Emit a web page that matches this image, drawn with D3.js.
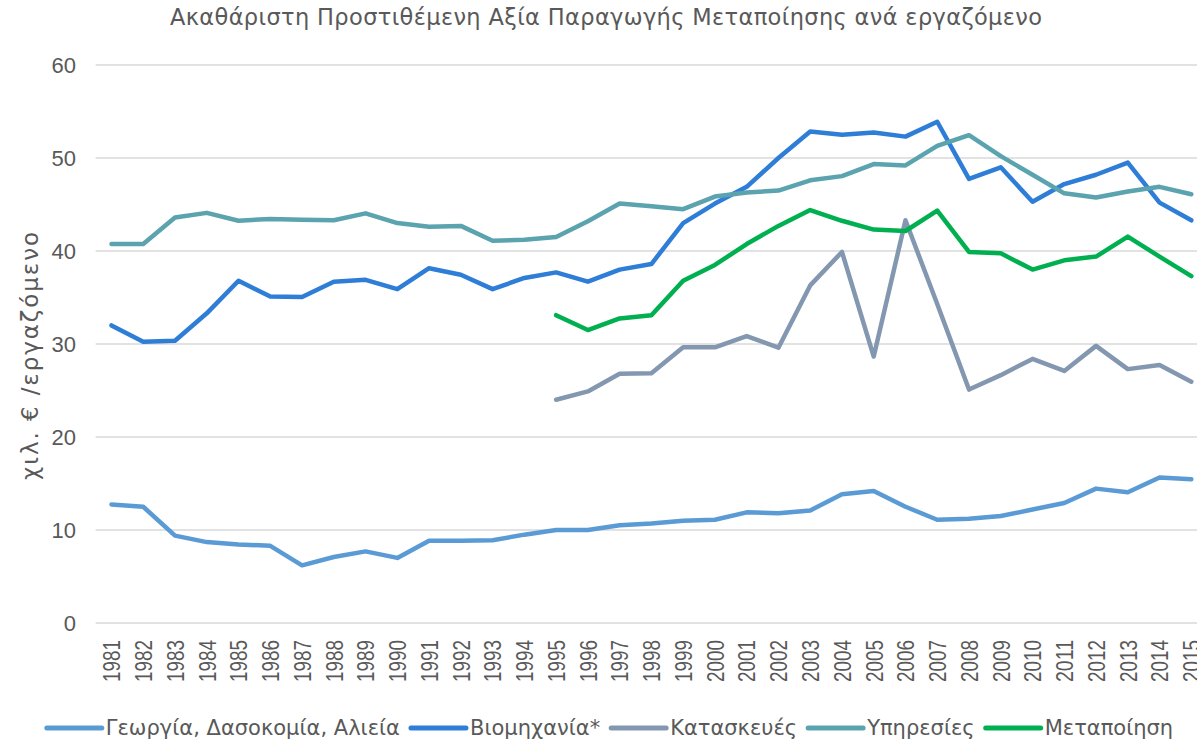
<!DOCTYPE html>
<html>
<head>
<meta charset="utf-8">
<script src="https://cdn.jsdelivr.net/npm/d3@7"></script>
<style>
  body { margin: 0; background: #fff; }
  text { font-family: "DejaVu Sans", sans-serif; fill: #595959; }
  .num { font-family: "Liberation Sans", Arial, sans-serif; }
</style>
</head>
<body>
<div id="chart"></div>
<script>
// Years on the x axis
const years = d3.range(1981, 2016);

// Series values, thousand euro per employee (null = no data)
const agriculture = [12.75, 12.5, 9.4, 8.7, 8.45, 8.3, 6.2, 7.1, 7.7, 7.0,
  8.85, 8.85, 8.9, 9.5, 10.0, 10.0, 10.5, 10.7, 11.0, 11.1,
  11.9, 11.8, 12.1, 13.85, 14.2, 12.5, 11.1, 11.2, 11.5, 12.2,
  12.9, 14.45, 14.05, 15.65, 15.45];
const industry = [32.0, 30.25, 30.35, 33.3, 36.8, 35.1, 35.05, 36.7, 36.9, 35.9,
  38.15, 37.45, 35.9, 37.1, 37.7, 36.7, 38.0, 38.6, 43.0, 45.1,
  46.9, 50.0, 52.85, 52.5, 52.75, 52.3, 53.9, 47.75, 49.0, 45.3,
  47.2, 48.2, 49.5, 45.2, 43.3];
const construction = [null, null, null, null, null, null, null, null, null, null,
  null, null, null, null, 24.0, 24.9, 26.8, 26.85, 29.65, 29.65,
  30.85, 29.6, 36.3, 39.9, 28.65, 43.3, 34.3, 25.1, 26.65, 28.4,
  27.1, 29.8, 27.3, 27.75, 25.95];
const services = [40.75, 40.75, 43.6, 44.1, 43.25, 43.45, 43.35, 43.3, 44.05, 43.0,
  42.6, 42.7, 41.1, 41.2, 41.5, 43.2, 45.1, 44.8, 44.5, 45.85,
  46.3, 46.5, 47.6, 48.05, 49.35, 49.2, 51.3, 52.45, 50.2, 48.2,
  46.2, 45.75, 46.4, 46.9, 46.1];
const manufacturing = [null, null, null, null, null, null, null, null, null, null,
  null, null, null, null, 33.1, 31.5, 32.75, 33.1, 36.8, 38.5,
  40.75, 42.7, 44.4, 43.25, 42.3, 42.15, 44.35, 39.9, 39.75, 38.0,
  39.0, 39.4, 41.55, 39.4, 37.3];

const seriesNames = ["Γεωργία, Δασοκομία, Αλιεία", "Βιομηχανία*", "Κατασκευές", "Υπηρεσίες", "Μεταποίηση"];
const seriesValues = [agriculture, industry, construction, services, manufacturing];
const seriesColors = ["#5B9BD5", "#2E7DD7", "#8497B0", "#5BA3AE", "#00B050"];
const yTicks = [0, 10, 20, 30, 40, 50, 60];

const width = 1197, height = 741;

const svg = d3.select("#chart")
  .append("svg")
  .attr("width", width)
  .attr("height", height);

// Scales: one band per year, plot runs past the right edge like the original
const x = d3.scalePoint()
  .domain(years)
  .range([95.6, 1207.2])
  .padding(0.5);

const y = d3.scaleLinear()
  .domain([0, 60])
  .range([623, 65]);

// Gridlines
svg.append("g")
  .selectAll("line")
  .data(yTicks)
  .join("line")
  .attr("x1", 95.6)
  .attr("x2", 1207.2)
  .attr("y1", d => y(d))
  .attr("y2", d => y(d))
  .attr("stroke", "#D9D9D9")
  .attr("stroke-width", 1.5);

// Y axis labels
const yAxis = svg.append("g")
  .attr("transform", "translate(76,0)")
  .call(d3.axisLeft(y).tickValues(yTicks).tickSize(0).tickPadding(0));
yAxis.select(".domain").remove();
yAxis.selectAll("text")
  .attr("class", "num")
  .style("font-size", "22px")
  .attr("fill", "#595959");

// X axis labels, rotated
const xAxis = svg.append("g")
  .attr("transform", "translate(0,640)")
  .call(d3.axisBottom(x).tickSize(0).tickPadding(0));
xAxis.select(".domain").remove();
xAxis.selectAll("text")
  .attr("class", "num")
  .attr("transform", "rotate(-90)")
  .attr("text-anchor", "end")
  .attr("x", 0)
  .attr("y", 0)
  .attr("dy", "0.36em")
  .attr("textLength", 42)
  .attr("lengthAdjust", "spacingAndGlyphs")
  .style("font-size", "23px")
  .attr("fill", "#595959");

// Lines
const line = d3.line()
  .defined(d => d != null)
  .x((d, i) => x(years[i]))
  .y(d => y(d));

svg.append("g")
  .selectAll("path")
  .data(seriesValues)
  .join("path")
  .attr("d", d => line(d))
  .attr("fill", "none")
  .attr("stroke", (d, i) => seriesColors[i])
  .attr("stroke-width", 4.5)
  .attr("stroke-linejoin", "round")
  .attr("stroke-linecap", "round");

// Title
svg.append("text")
  .attr("x", 606)
  .attr("y", 25)
  .attr("text-anchor", "middle")
  .attr("textLength", 872)
  .attr("lengthAdjust", "spacing")
  .style("font-size", "22.5px")
  .text("Ακαθάριστη Προστιθέμενη Αξία Παραγωγής Μεταποίησης ανά εργαζόμενο");

// Y axis title
svg.append("text")
  .attr("transform", "translate(38,356) rotate(-90)")
  .attr("text-anchor", "middle")
  .attr("textLength", 248)
  .attr("lengthAdjust", "spacing")
  .style("font-size", "23px")
  .text("χιλ. € /εργαζόμενο");

// Legend, laid out left to right and centred
const legend = svg.append("g").attr("transform", "translate(0,728)");
const items = legend.selectAll("g")
  .data(seriesNames)
  .join("g");
items.append("line")
  .attr("x1", 0).attr("x2", 55)
  .attr("y1", 0).attr("y2", 0)
  .attr("stroke", (d, i) => seriesColors[i])
  .attr("stroke-width", 5)
  .attr("stroke-linecap", "round");
items.append("text")
  .attr("x", 59)
  .attr("dy", "0.35em")
  .style("font-size", "21px")
  .text(d => d);

let offsets = [], total = 0;
items.each(function() {
  const w = 59 + this.querySelector("text").getComputedTextLength();
  offsets.push(total);
  total += w + 11;
});
total -= 11;
const start = 610 - total / 2;
items.attr("transform", (d, i) => `translate(${start + offsets[i]},0)`);
</script>
</body>
</html>
